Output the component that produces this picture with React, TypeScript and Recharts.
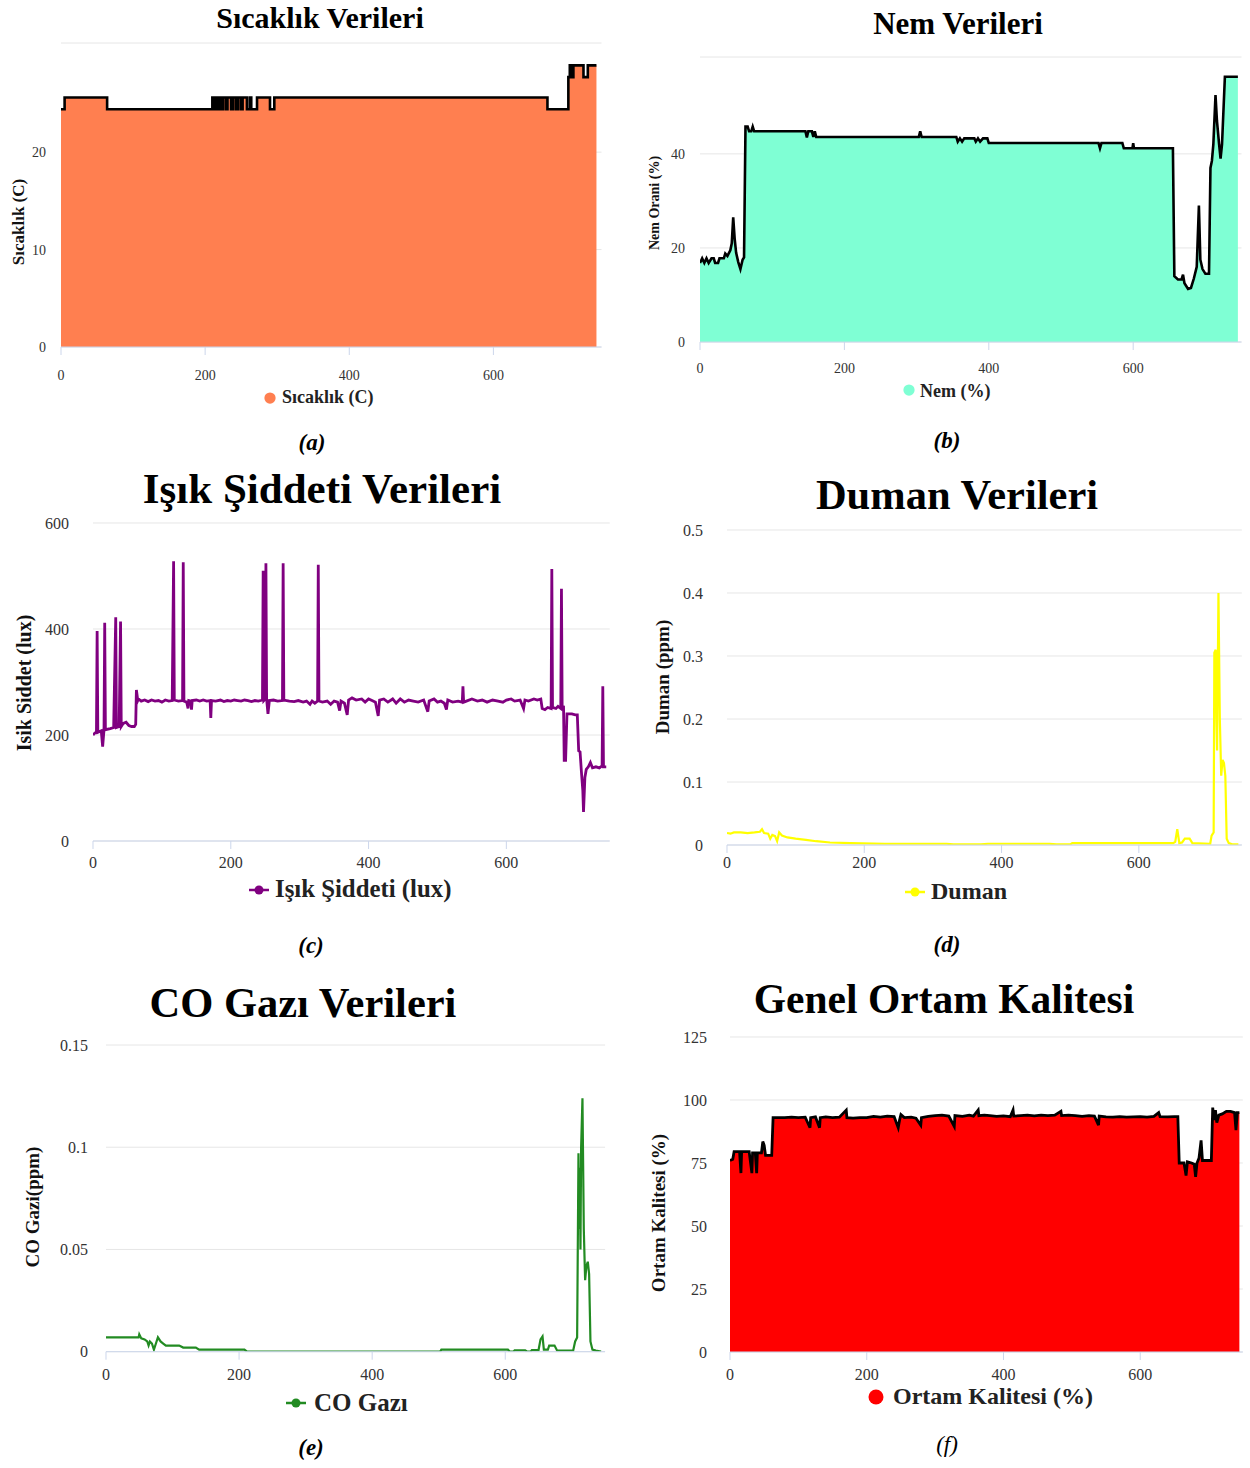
import React from "react";
import { ComposedChart, Area, Line, XAxis, YAxis, CartesianGrid } from "recharts";

// x = ölçüm sırası, y = değer
const xTicks = [0, 200, 400, 600];

const sicaklik: [number, number][] = [
  [0, 24.4], [5, 25.6], [64, 24.4], [210, 25.6], [213, 24.4], [215, 25.6], [218, 24.4],
  [220, 25.6], [223, 24.4], [225, 25.6], [229, 24.4], [231, 25.6], [236, 24.4], [239, 25.6],
  [243, 24.4], [246, 25.6], [250, 24.4], [252, 25.6], [258, 24.4], [262, 25.6], [264, 24.4],
  [272, 25.6], [290, 24.4], [296, 25.6], [675, 24.4], [704, 27.7], [706, 28.9], [709, 27.7],
  [711, 28.9], [725, 27.7], [731, 28.9], [743, 28.9],
];

const nem: [number, number][] = [
  [0, 16.8], [3, 17.8], [6, 16.8], [9, 17.8], [12, 16.8], [16, 17.8], [19, 17.8], [21, 16.8],
  [25, 16.8], [27, 17.8], [33, 17.8], [35, 18.8], [38, 18.3], [42, 19.5], [44, 21], [46, 26.5],
  [48, 22], [50, 19], [53, 17], [56, 15.5], [59, 17.5], [61, 18], [63, 45.8], [66, 45.8],
  [68, 44.8], [71, 44.8], [73, 45.8], [75, 44.8], [146, 44.8], [148, 43.5], [150, 44.8],
  [155, 44.8], [157, 43.6], [159, 44.8], [161, 43.6], [303, 43.6], [305, 44.8], [307, 43.6],
  [355, 43.6], [357, 42.6], [360, 43.3], [363, 42.6], [366, 43.3], [380, 43.3], [382, 42.6],
  [385, 43.3], [388, 42.6], [392, 43.3], [398, 43.3], [400, 42.3], [552, 42.3], [554, 41.2],
  [556, 42.3], [585, 42.3], [587, 41.2], [599, 41.2], [600, 42.3], [601, 41.2], [655, 41.2],
  [657, 14], [662, 13.3], [667, 13.3], [669, 14.3], [671, 12.5], [676, 11.3], [680, 11.5],
  [684, 13.5], [688, 16], [691, 29], [693, 17.5], [696, 15.5], [700, 14.5], [705, 14.5],
  [707, 37], [709, 38.5], [711, 42], [714, 52.5], [716, 47], [719, 42], [721, 39], [723, 42],
  [727, 56.4], [745, 56.4],
];

const isik: [number, number][] = [
  [0, 200], [3, 204], [5, 205], [6, 396], [7, 205], [12, 208], [14, 178], [16, 210], [17, 412],
  [18, 210], [25, 212], [30, 214], [33, 422], [34, 214], [38, 216], [40, 414], [41, 216],
  [44, 222], [48, 224], [52, 218], [56, 216], [60, 216], [62, 220], [63, 285], [65, 265],
  [66, 268], [70, 264], [75, 266], [80, 263], [85, 266], [90, 264], [95, 265], [100, 262],
  [105, 266], [110, 264], [115, 265], [117, 528], [118, 266], [124, 264], [130, 265],
  [131, 526], [132, 264], [136, 262], [138, 250], [139, 265], [142, 264], [143, 248],
  [144, 265], [150, 266], [155, 264], [160, 266], [165, 264], [170, 265], [171, 232],
  [172, 265], [178, 264], [185, 266], [190, 263], [195, 265], [200, 264], [205, 266],
  [210, 265], [215, 264], [220, 266], [225, 265], [230, 263], [235, 265], [240, 264],
  [246, 266], [247, 510], [248, 265], [250, 268], [251, 524], [252, 268], [254, 240],
  [256, 265], [262, 266], [268, 264], [275, 265], [276, 524], [277, 266], [285, 264],
  [292, 263], [298, 265], [305, 262], [310, 264], [315, 258], [318, 264], [322, 260],
  [326, 264], [327, 521], [328, 264], [333, 262], [340, 264], [345, 258], [350, 264],
  [355, 262], [358, 246], [360, 264], [365, 260], [369, 238], [371, 266], [376, 270],
  [382, 266], [390, 268], [395, 262], [400, 268], [405, 265], [410, 262], [414, 236],
  [416, 266], [422, 268], [428, 262], [435, 268], [440, 260], [446, 268], [452, 262],
  [458, 266], [465, 264], [472, 262], [480, 266], [486, 244], [488, 264], [495, 268],
  [500, 262], [505, 264], [510, 260], [513, 248], [515, 266], [522, 262], [530, 264],
  [536, 262], [537, 292], [538, 262], [542, 264], [550, 268], [558, 264], [565, 266],
  [572, 262], [580, 266], [588, 264], [595, 262], [600, 266], [607, 268], [612, 264],
  [620, 266], [625, 250], [627, 266], [632, 264], [640, 268], [645, 266], [650, 268],
  [652, 250], [656, 248], [660, 252], [665, 250], [666, 513], [667, 252], [672, 250],
  [675, 254], [679, 250], [680, 476], [681, 250], [683, 255], [684, 152], [686, 152],
  [688, 240], [695, 240], [700, 238], [703, 238], [705, 170], [707, 168], [709, 130],
  [711, 95], [712, 55], [714, 120], [716, 135], [719, 140], [722, 148], [725, 138],
  [730, 140], [735, 138], [739, 142], [740, 292], [741, 140], [745, 140],
];

const duman: [number, number][] = [
  [0, 0.019], [5, 0.018], [10, 0.02], [20, 0.02], [30, 0.019], [40, 0.02], [48, 0.021],
  [51, 0.025], [54, 0.019], [60, 0.018], [63, 0.01], [66, 0.016], [70, 0.014], [73, 0.006],
  [76, 0.02], [80, 0.015], [88, 0.012], [100, 0.01], [115, 0.008], [130, 0.006], [150, 0.004],
  [180, 0.003], [230, 0.002], [320, 0.002], [330, 0.001], [370, 0.001], [380, 0.002],
  [470, 0.002], [480, 0.001], [500, 0.001], [503, 0.003], [650, 0.003], [653, 0.005],
  [656, 0.025], [659, 0.003], [663, 0.004], [667, 0.01], [674, 0.01], [678, 0.003],
  [704, 0.002], [706, 0.015], [709, 0.02], [710, 0.305], [712, 0.31], [713, 0.2], [714, 0.15],
  [716, 0.4], [718, 0.2], [720, 0.11], [722, 0.135], [724, 0.13], [726, 0.11], [728, 0.01],
  [731, 0.003], [736, 0.001], [745, 0.001],
];

const coGazi: [number, number][] = [
  [0, 0.007], [20, 0.007], [40, 0.007], [49, 0.007], [50, 0.0085], [53, 0.0065], [58, 0.006],
  [62, 0.005], [64, 0.003], [66, 0.005], [69, 0.004], [72, 0.001], [75, 0.004], [78, 0.007],
  [82, 0.005], [86, 0.004], [90, 0.003], [110, 0.003], [116, 0.002], [135, 0.002],
  [140, 0.001], [208, 0.001], [212, 0], [502, 0], [504, 0.001], [604, 0.001], [607, 0],
  [612, 0], [614, 0.0006], [630, 0.0006], [633, 0], [638, 0], [640, 0.0008], [650, 0.0008],
  [653, 0.006], [656, 0.0075], [658, 0.001], [664, 0.001], [666, 0.003], [674, 0.003],
  [678, 0.0005], [702, 0.0005], [705, 0.005], [708, 0.007], [710, 0.097], [711, 0.06],
  [712, 0.09], [713, 0.05], [714, 0.1], [716, 0.124], [718, 0.06], [720, 0.035], [722, 0.042],
  [724, 0.044], [726, 0.038], [728, 0.005], [731, 0.001], [736, 0.0005], [744, 0],
];

const ortamKalitesi: [number, number][] = [
  [0, 76], [4, 76.5], [6, 79.5], [14, 79.5], [16, 71], [17, 79.5], [28, 79.5], [32, 71],
  [33, 79], [37, 79], [39, 71], [40, 79], [46, 79], [48, 83.5], [50, 82], [52, 78], [61, 78],
  [63, 93], [80, 93], [90, 93.2], [100, 93], [110, 93.2], [117, 89], [118, 93], [125, 93.3],
  [131, 89], [132, 93], [140, 93.3], [150, 93], [160, 93.2], [170, 96], [171, 93],
  [180, 92.8], [190, 93], [200, 93], [210, 93.5], [220, 93.2], [230, 93.6], [240, 93.4],
  [246, 89], [248, 92], [250, 94.2], [255, 93], [265, 93.2], [272, 92.8], [279, 90], [280, 93],
  [290, 93.5], [300, 93.8], [310, 94], [320, 93.6], [328, 89.5], [329, 93.8], [340, 93.5],
  [350, 94], [356, 93.6], [363, 96], [364, 93.8], [372, 94], [380, 93.8], [390, 93.5],
  [400, 93.7], [410, 93.4], [414, 96], [415, 93.6], [425, 93.8], [435, 94], [445, 93.7],
  [455, 94], [465, 93.8], [475, 94], [484, 95.5], [485, 93.8], [495, 94], [505, 93.8],
  [515, 93.5], [525, 93.8], [533, 93.6], [539, 90], [540, 93.6], [550, 93.3], [560, 93.2],
  [570, 93.4], [580, 93.2], [590, 93.3], [600, 93.4], [610, 93.2], [620, 93.5], [627, 95],
  [629, 93.4], [640, 93.3], [650, 93.4], [655, 93.4], [657, 75], [664, 75], [667, 70],
  [669, 75.5], [675, 75], [679, 74.5], [681, 69.5], [683, 75], [686, 77], [689, 84], [691, 76],
  [698, 76], [704, 76], [706, 97], [708, 92], [710, 96], [712, 91], [715, 94], [720, 94.5],
  [726, 95.5], [732, 95.5], [738, 95], [740, 88], [742, 95], [745, 95],
];

const serif = '"Liberation Serif", "Times New Roman", serif';

type Spec = {
  values: [number, number][];
  plot: { left: number; right: number; top: number; bottom: number };
  yDomain: [number, number];
  yTicks: number[];
  hideTop?: boolean;
  kind: "area" | "line";
  curve: "linear" | "stepAfter";
  color: string;
  lineWidth: number;
  tickFont: number;
  yGap: number;
  xMargin: number;
};

const specs: Spec[] = [
  {
    values: sicaklik, plot: { left: 60.5, right: 601, top: 42.7, bottom: 346.7 },
    yDomain: [0, 31.2], yTicks: [0, 10, 20, 31.2], hideTop: true, kind: "area",
    curve: "stepAfter", color: "#FF7F50", lineWidth: 2.6, tickFont: 14, yGap: 15, xMargin: 15,
  },
  {
    values: nem, plot: { left: 700, right: 1241.5, top: 57.3, bottom: 342.3 },
    yDomain: [0, 60.6], yTicks: [0, 20, 40, 60.6], hideTop: true, kind: "area",
    curve: "linear", color: "#7FFFD4", lineWidth: 2.6, tickFont: 14, yGap: 15, xMargin: 13,
  },
  {
    values: isik, plot: { left: 93.3, right: 610, top: 522.7, bottom: 840.7 },
    yDomain: [0, 600], yTicks: [0, 200, 400, 600], kind: "line",
    curve: "linear", color: "#800080", lineWidth: 2.8, tickFont: 16, yGap: 24, xMargin: 8,
  },
  {
    values: duman, plot: { left: 727.2, right: 1242, top: 530, bottom: 845 },
    yDomain: [0, 0.5], yTicks: [0, 0.1, 0.2, 0.3, 0.4, 0.5], kind: "line",
    curve: "linear", color: "#FFFF00", lineWidth: 2.2, tickFont: 16, yGap: 24, xMargin: 4,
  },
  {
    values: coGazi, plot: { left: 105.9, right: 605, top: 1045, bottom: 1351.7 },
    yDomain: [0, 0.15], yTicks: [0, 0.05, 0.1, 0.15], kind: "line",
    curve: "linear", color: "#228B22", lineWidth: 2.2, tickFont: 16, yGap: 18, xMargin: 9,
  },
  {
    values: ortamKalitesi, plot: { left: 729.6, right: 1242.4, top: 1036.7, bottom: 1351.7 },
    yDomain: [0, 125], yTicks: [0, 25, 50, 75, 100, 125], kind: "area",
    curve: "linear", color: "#FF0000", lineWidth: 2.8, tickFont: 16, yGap: 23, xMargin: 9,
  },
];

const Panel = ({ spec }: { spec: Spec }) => {
  const padL = 90;
  const padT = 20;
  const padR = 6;
  const axisH = 50;
  const { left, right, top, bottom } = spec.plot;
  const width = right - left + padL + padR;
  const height = bottom - top + padT + axisH;
  const data = spec.values.map(([x, y]) => ({ x, y }));
  const tickStyle = { fill: "#333", fontSize: spec.tickFont, fontFamily: serif };
  return (
    <div style={{ position: "absolute", left: left - padL, top: top - padT }}>
      <ComposedChart
        width={width}
        height={height}
        data={data}
        margin={{ top: padT, right: padR, left: 0, bottom: 0 }}
      >
        <CartesianGrid vertical={false} stroke="#e6e6e6" />
        <XAxis
          type="number"
          dataKey="x"
          domain={[0, 750]}
          ticks={xTicks}
          interval={0}
          height={axisH}
          axisLine={{ stroke: "#ccd6eb" }}
          tickLine={{ stroke: "#ccd6eb" }}
          tickSize={8}
          tickMargin={spec.xMargin}
          tick={tickStyle}
          allowDataOverflow
        />
        <YAxis
          type="number"
          domain={spec.yDomain}
          ticks={spec.yTicks}
          interval={0}
          width={padL}
          axisLine={false}
          tickLine={false}
          tickSize={0}
          tickMargin={spec.yGap}
          tick={tickStyle}
          tickFormatter={(v: number) => (spec.hideTop && v === spec.yDomain[1] ? "" : String(v))}
          allowDataOverflow
        />
        {spec.kind === "area" ? (
          <Area
            type={spec.curve}
            dataKey="y"
            fill={spec.color}
            fillOpacity={1}
            stroke="#000"
            strokeWidth={spec.lineWidth}
            dot={false}
            activeDot={false}
            isAnimationActive={false}
          />
        ) : (
          <Line
            type={spec.curve}
            dataKey="y"
            stroke={spec.color}
            strokeWidth={spec.lineWidth}
            dot={false}
            activeDot={false}
            isAnimationActive={false}
          />
        )}
      </ComposedChart>
    </div>
  );
};

const titles: [string, number, number, number][] = [
  ["Sıcaklık Verileri", 320, 27.5, 30],
  ["Nem Verileri", 958, 34, 31],
  ["Işık Şiddeti Verileri", 322, 503, 43],
  ["Duman Verileri", 957, 509, 42.5],
  ["CO Gazı Verileri", 303, 1017, 42.5],
  ["Genel Ortam Kalitesi", 944, 1013, 41.5],
];

const yTitles: [string, number, number, number][] = [
  ["Sıcaklık (C)", 18, 222, 17],
  ["Nem Orani (%)", 654, 203, 14],
  ["Isik Siddet (lux)", 24, 683, 20],
  ["Duman (ppm)", 662, 677, 19],
  ["CO Gazi(ppm)", 32, 1207, 19],
  ["Ortam Kalitesi (%)", 658, 1213, 19],
];

// [metin, simge x, simge y, metin x, taban çizgisi, yazı boyu, renk, simge türü]
const legends: [string, number, number, number, number, number, string, "dot" | "line"][] = [
  ["Sıcaklık (C)", 270, 398, 282, 403, 18, "#FF7F50", "dot"],
  ["Nem (%)", 909, 390, 920, 397, 18, "#7FFFD4", "dot"],
  ["Işık Şiddeti (lux)", 259, 890, 275, 897, 24.8, "#800080", "line"],
  ["Duman", 915, 892, 931, 899, 24, "#FFFF00", "line"],
  ["CO Gazı", 296, 1403, 314, 1411, 25, "#228B22", "line"],
  ["Ortam Kalitesi (%)", 876, 1397, 893, 1404, 24, "#FF0000", "dot"],
];

const captions: [string, number, number, boolean][] = [
  ["(a)", 312, 450, true],
  ["(b)", 947, 448, true],
  ["(c)", 311, 953, true],
  ["(d)", 947, 952, true],
  ["(e)", 311, 1455, true],
  ["(f)", 947, 1452, false],
];

const App = () => (
  <div style={{ position: "absolute", left: 0, top: 0, width: 1250, height: 1468, background: "#fff" }}>
    {specs.map((s, i) => (
      <Panel key={i} spec={s} />
    ))}
    <svg
      width={1250}
      height={1468}
      style={{ position: "absolute", left: 0, top: 0, pointerEvents: "none" }}
      fontFamily={serif}
    >
      {titles.map(([t, x, y, fs]) => (
        <text key={t} x={x} y={y} textAnchor="middle" fontSize={fs} fontWeight="bold" fill="#000">
          {t}
        </text>
      ))}
      {yTitles.map(([t, x, y, fs]) => (
        <text
          key={t}
          transform={`translate(${x},${y}) rotate(-90)`}
          textAnchor="middle"
          dominantBaseline="central"
          fontSize={fs}
          fontWeight="bold"
          fill="#111"
        >
          {t}
        </text>
      ))}
      {legends.map(([t, ix, iy, tx, ty, fs, c, kind]) => (
        <g key={t}>
          {kind === "dot" ? (
            <circle cx={ix} cy={iy} r={fs / 3.2} fill={c} />
          ) : (
            <g>
              <line x1={ix - 10} x2={ix + 10} y1={iy} y2={iy} stroke={c} strokeWidth={2.5} />
              <circle cx={ix} cy={iy} r={4.5} fill={c} />
            </g>
          )}
          <text x={tx} y={ty} fontSize={fs} fontWeight="bold" fill="#222">
            {t}
          </text>
        </g>
      ))}
      {captions.map(([t, x, y, bold]) => (
        <text
          key={t}
          x={x}
          y={y}
          textAnchor="middle"
          fontSize={23}
          fontStyle="italic"
          fontWeight={bold ? "bold" : "normal"}
          fill="#000"
        >
          {t}
        </text>
      ))}
    </svg>
  </div>
);

export default App;
